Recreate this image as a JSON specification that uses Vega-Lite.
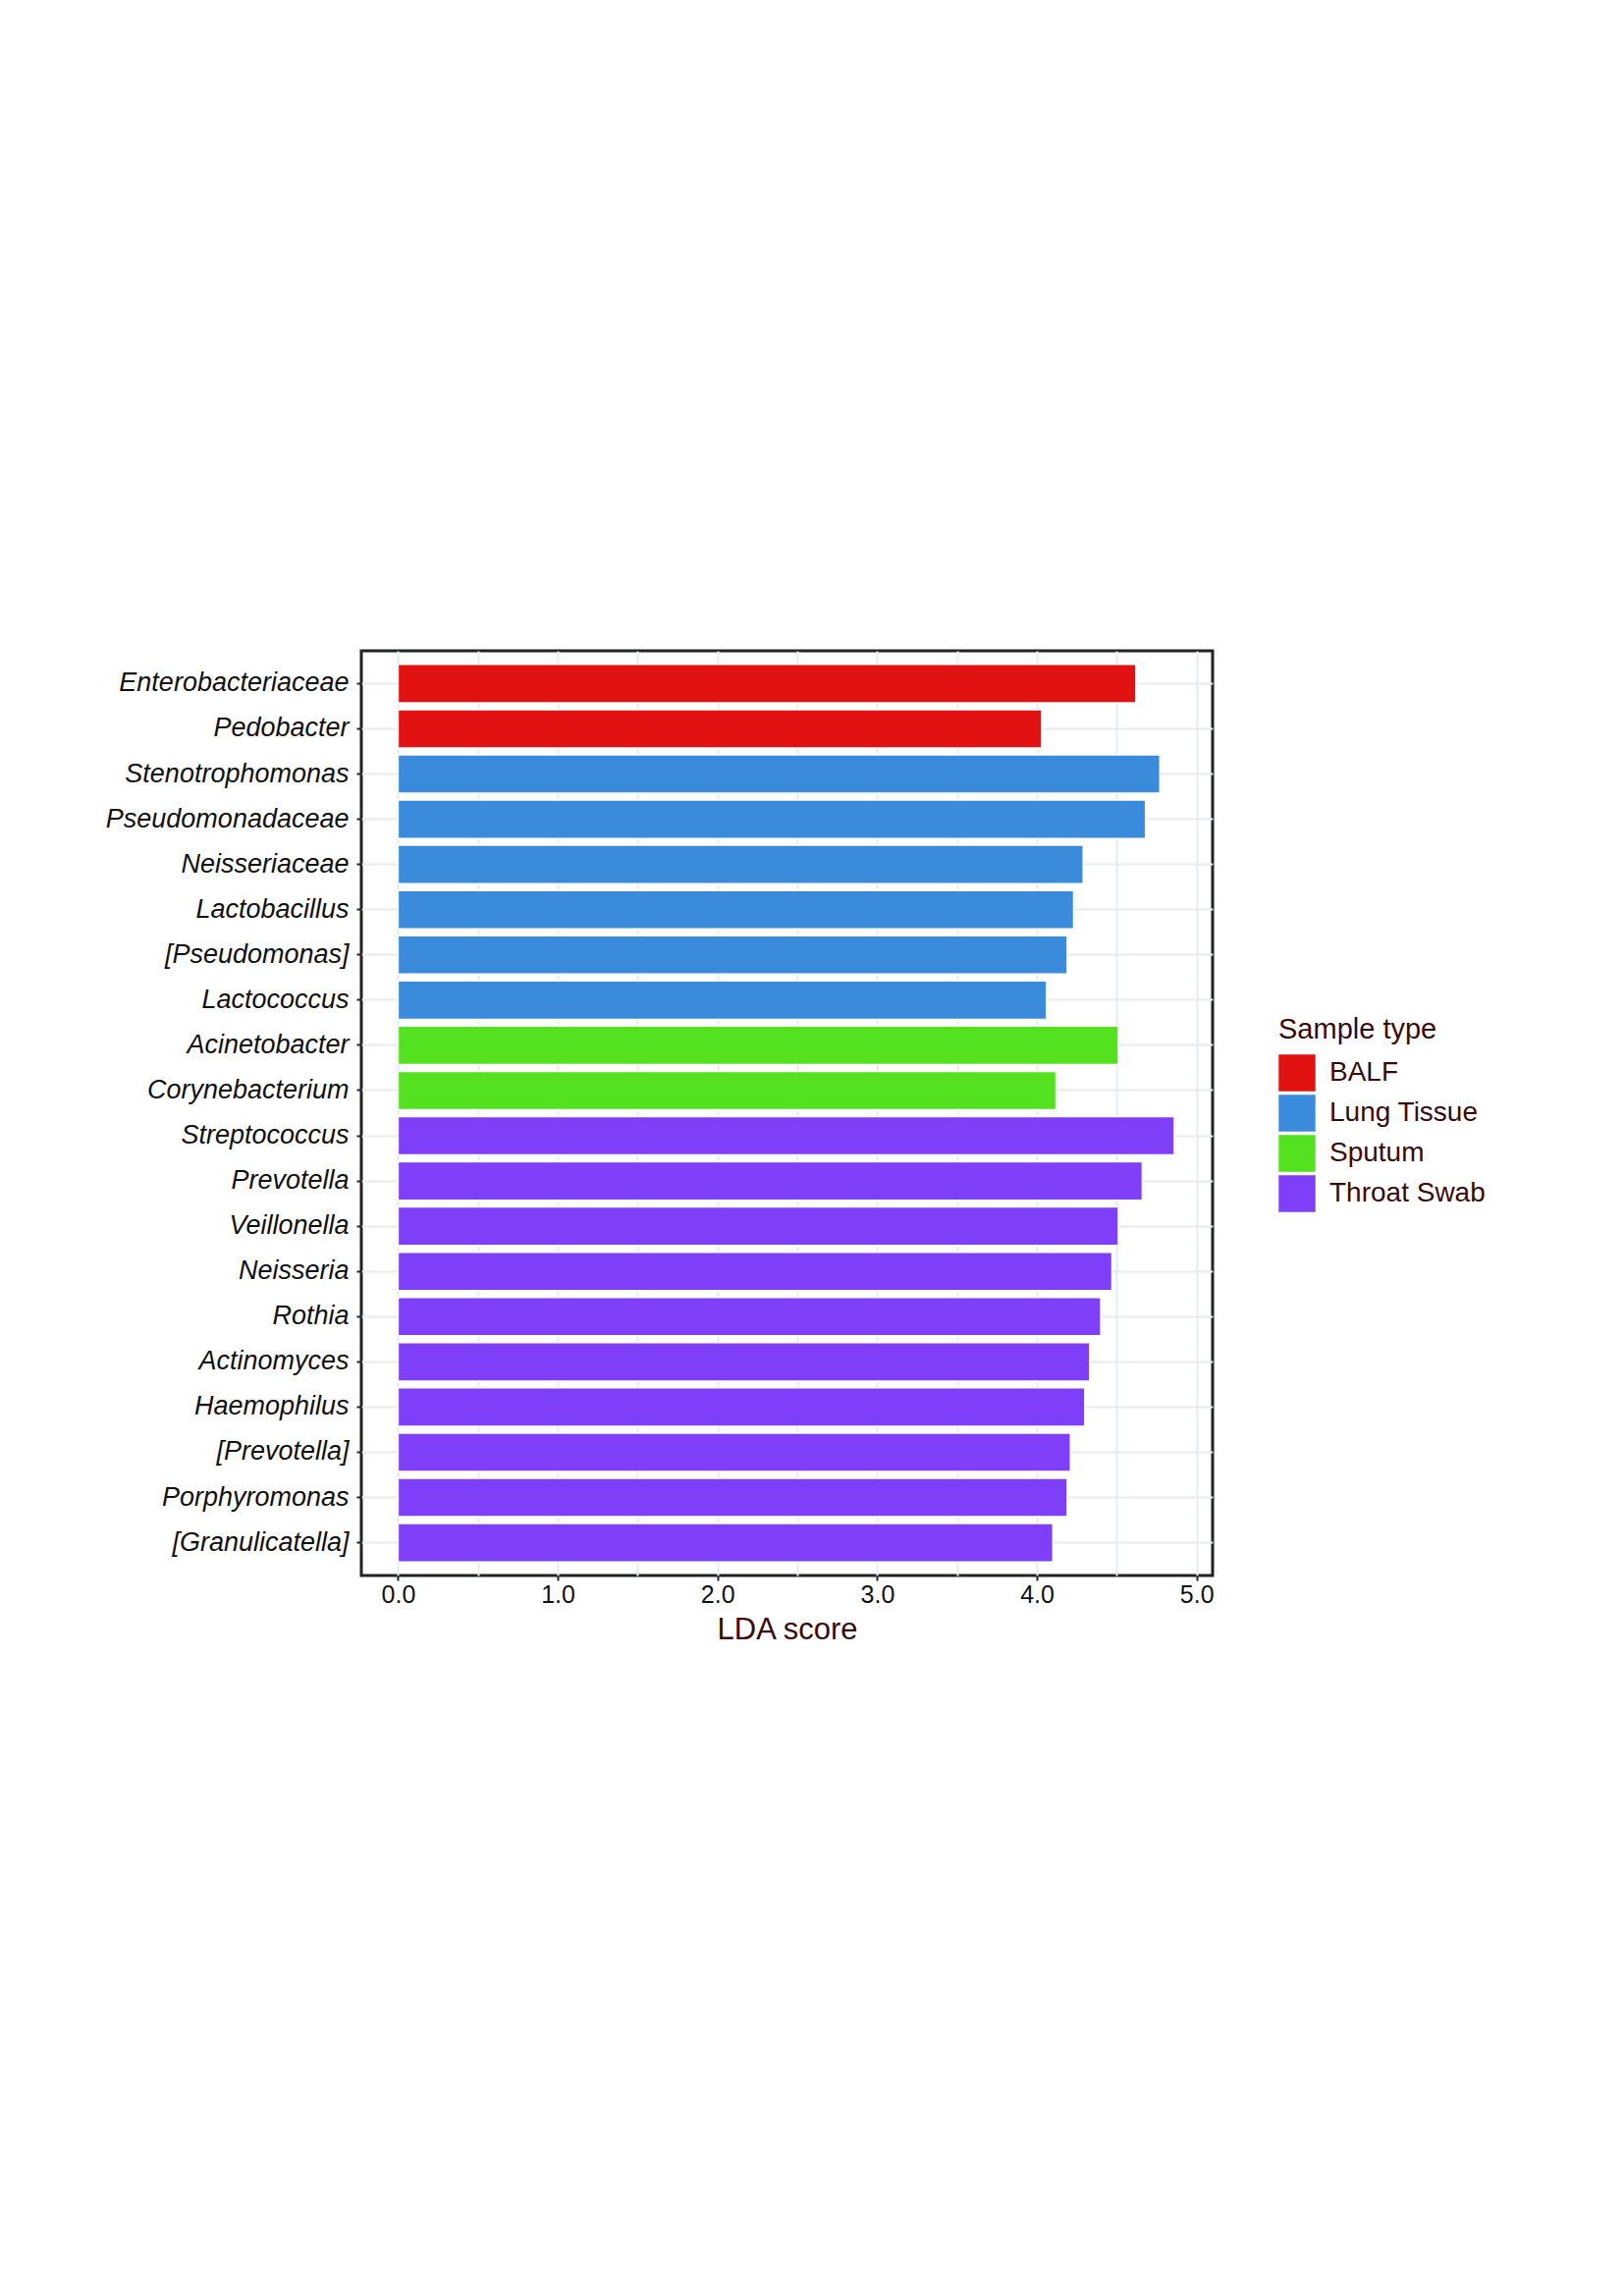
{
  "$schema": "https://vega.github.io/schema/vega-lite/v6.json",
  "autosize": {"type": "none"},
  "width": 867,
  "height": 942,
  "padding": {"left": 368, "top": 663, "right": 419, "bottom": 734},
  "background": "white",
  "data": {
    "values": [
      {"taxon": "Enterobacteriaceae", "type": "BALF", "lda": 4.62},
      {"taxon": "Pedobacter", "type": "BALF", "lda": 4.03},
      {"taxon": "Stenotrophomonas", "type": "Lung Tissue", "lda": 4.77},
      {"taxon": "Pseudomonadaceae", "type": "Lung Tissue", "lda": 4.68},
      {"taxon": "Neisseriaceae", "type": "Lung Tissue", "lda": 4.29},
      {"taxon": "Lactobacillus", "type": "Lung Tissue", "lda": 4.23},
      {"taxon": "[Pseudomonas]", "type": "Lung Tissue", "lda": 4.19},
      {"taxon": "Lactococcus", "type": "Lung Tissue", "lda": 4.06},
      {"taxon": "Acinetobacter", "type": "Sputum", "lda": 4.51},
      {"taxon": "Corynebacterium", "type": "Sputum", "lda": 4.12},
      {"taxon": "Streptococcus", "type": "Throat Swab", "lda": 4.86},
      {"taxon": "Prevotella", "type": "Throat Swab", "lda": 4.66},
      {"taxon": "Veillonella", "type": "Throat Swab", "lda": 4.51},
      {"taxon": "Neisseria", "type": "Throat Swab", "lda": 4.47},
      {"taxon": "Rothia", "type": "Throat Swab", "lda": 4.40},
      {"taxon": "Actinomyces", "type": "Throat Swab", "lda": 4.33},
      {"taxon": "Haemophilus", "type": "Throat Swab", "lda": 4.30},
      {"taxon": "[Prevotella]", "type": "Throat Swab", "lda": 4.21},
      {"taxon": "Porphyromonas", "type": "Throat Swab", "lda": 4.19},
      {"taxon": "[Granulicatella]", "type": "Throat Swab", "lda": 4.10}
    ]
  },
  "mark": {"type": "bar", "stroke": "white", "strokeWidth": 1.5},
  "encoding": {
    "y": {
      "field": "taxon",
      "type": "nominal",
      "sort": null,
      "title": null,
      "scale": {"paddingInner": 0.15, "paddingOuter": 0.3},
      "axis": {
        "labelFont": "Liberation Sans",
        "labelFontStyle": "italic",
        "labelFontSize": 27,
        "labelLimit": 400,
        "labelColor": "#111",
        "labelPadding": 8,
        "tickColor": "#222",
        "tickSize": 5,
        "tickWidth": 2,
        "domain": false,
        "grid": true,
        "gridColor": "#e6ecef",
        "gridWidth": 2
      }
    },
    "x": {
      "field": "lda",
      "type": "quantitative",
      "title": "LDA score",
      "scale": {"domain": [-0.23, 5.1], "nice": false, "zero": false},
      "axis": {
        "values": [0, 0.5, 1, 1.5, 2, 2.5, 3, 3.5, 4, 4.5, 5],
        "labelExpr": "datum.value % 1 == 0 ? datum.label : ''",
        "tickOpacity": {"condition": {"test": "datum.value % 1 != 0", "value": 0}, "value": 1},
        "labelFont": "Liberation Sans",
        "labelFontSize": 25,
        "labelColor": "#111",
        "titleFont": "Liberation Sans",
        "titleFontSize": 31,
        "titleFontWeight": "normal",
        "titleColor": "#3a0a0a",
        "titlePadding": 8,
        "tickColor": "#222",
        "tickSize": 5,
        "tickWidth": 2,
        "domain": false,
        "gridColor": "#e6ecef",
        "gridWidth": 2
      }
    },
    "color": {
      "field": "type",
      "type": "nominal",
      "title": "Sample type",
      "scale": {
        "domain": ["BALF", "Lung Tissue", "Sputum", "Throat Swab"],
        "range": ["#e31212", "#3a8bdc", "#54e220", "#7f3ff8"]
      },
      "legend": {
        "orient": "none",
        "legendX": 934,
        "legendY": 372,
        "symbolType": "square",
        "symbolSize": 1400,
        "symbolStrokeWidth": 0,
        "symbolOpacity": 1,
        "titleFont": "Liberation Sans",
        "titleFontSize": 29,
        "titleFontWeight": "normal",
        "titleColor": "#3a0a0a",
        "titlePadding": 10,
        "labelFont": "Liberation Sans",
        "labelFontSize": 28,
        "labelColor": "#3a0a0a",
        "labelOffset": 14,
        "rowPadding": 3
      }
    }
  },
  "config": {
    "view": {"stroke": "#222", "strokeWidth": 3}
  }
}
